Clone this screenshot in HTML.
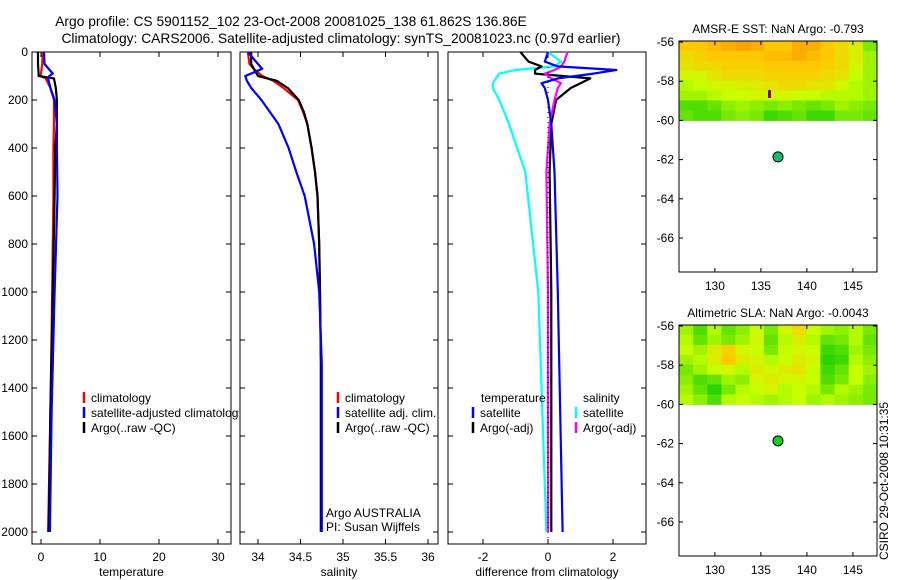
<!DOCTYPE html>
<html><head><meta charset="utf-8"><style>
body{margin:0;background:#fff;}
svg{display:block;font-family:"Liberation Sans",sans-serif;}
text{font-size:12px;fill:#000;}
.ttl{font-size:13.8px;}
</style></head><body>
<svg id="fig" width="900" height="580">
<defs><clipPath id="legclip"><rect x="0" y="380" width="239" height="60"/></clipPath></defs>
<text class="ttl" x="291" y="26" text-anchor="middle">Argo profile: CS 5901152_102 23-Oct-2008 20081025_138 61.862S 136.86E</text>
<text class="ttl" x="341" y="43" text-anchor="middle">Climatology: CARS2006. Satellite-adjusted climatology: synTS_20081023.nc (0.97d earlier)</text>
<text transform="translate(888,560) rotate(-90)">CSIRO 29-Oct-2008 10:31:35</text>
<g id="g"></g>
</svg>
<script>
// ---- depth axis data ----
const depthTicks=[0,200,400,600,800,1000,1200,1400,1600,1800,2000];
// temperature panel
const tDepth=[0,50,90,100,110,150,200,300,400,600,1000,1500,2000];
const tClim=[0.3,0.2,0,-0.1,0.8,1.6,2.2,2.2,2.1,2.1,1.9,1.6,1.2];
const tSat=[0.5,0.6,2.0,1.4,1.2,1.6,2.3,2.7,2.7,2.8,2.3,1.8,1.5];
const tArgo=[-0.5,-0.5,-0.4,-0.4,2.2,2.5,2.7,2.7,2.4,2.3,2.0,1.6,1.3];
const tTicks=[0,10,20,30];
// salinity panel
const sDepth=[0,50,70,100,120,150,200,250,300,400,500,600,800,1000,1300,2000];
const sClim=[33.88,33.9,33.95,34.05,34.18,34.3,34.47,34.53,34.58,34.63,34.67,34.7,34.72,34.73,34.74,34.74];
const sSat=[33.88,34.0,34.05,33.85,33.87,33.92,34.04,34.14,34.24,34.36,34.45,34.55,34.66,34.72,34.75,34.75];
const sArgo=[33.92,33.92,33.95,34.0,34.22,34.35,34.48,34.54,34.58,34.63,34.67,34.7,34.72,34.73,34.74,34.74];
const sTicks=[34,34.5,35,35.5,36];
// difference panel
const dDepth=[0,40,60,75,90,110,130,150,200,300,500,1000,2000];
const dTSat=[0,-0.1,0.3,2.1,1.4,0.3,-0.2,-0.1,0,0.1,0.2,0.3,0.45];
const dTArgo=[-0.85,-0.6,-0.2,-0.4,-0.4,1.3,1.0,0.7,0.25,0.1,0.05,0.1,0.1];
const dSSat=[0,0.4,0.2,-1.0,-1.5,-1.6,-1.7,-1.7,-1.5,-1.2,-0.7,-0.3,-0.05];
const dSArgo=[0.6,0.5,0.4,0.2,-0.1,0.1,0.4,0.3,0.2,0.05,-0.05,0,0];
const dTicks=[-2,0,2];
// maps
const lonTicks=[130,135,140,145];
const latTicks=[-56,-58,-60,-62,-64,-66];
const argoLon=136.86, argoLat=-61.862;
const sstGrid=[
[0.80,0.80,0.85,0.90,0.95,0.90,0.80,0.80,0.90,0.90,0.80,0.70,0.60,0.30],
[0.70,0.75,0.80,0.80,0.80,0.80,0.85,0.85,0.90,0.85,0.80,0.70,0.60,0.40],
[0.65,0.70,0.70,0.75,0.75,0.75,0.80,0.80,0.80,0.80,0.75,0.70,0.55,0.40],
[0.55,0.55,0.65,0.70,0.70,0.70,0.75,0.75,0.75,0.75,0.70,0.65,0.50,0.40],
[0.45,0.50,0.55,0.55,0.60,0.60,0.65,0.70,0.70,0.65,0.65,0.55,0.45,0.40],
[0.40,0.40,0.45,0.50,0.50,0.55,0.50,0.55,0.50,0.50,0.45,0.45,0.45,0.40],
[0.20,0.20,0.25,0.35,0.40,0.35,0.30,0.35,0.30,0.25,0.30,0.40,0.35,0.30],
[0.25,0.20,0.20,0.30,0.35,0.30,0.15,0.20,0.25,0.15,0.15,0.30,0.30,0.25]];
const slaGrid=[
[0.40,0.20,0.45,0.25,0.35,0.50,0.30,0.55,0.70,0.50,0.40,0.35,0.45,0.30],
[0.45,0.25,0.40,0.30,0.40,0.55,0.25,0.45,0.60,0.45,0.25,0.30,0.45,0.25],
[0.50,0.40,0.60,0.75,0.55,0.50,0.30,0.50,0.55,0.50,0.15,0.20,0.40,0.30],
[0.40,0.45,0.60,0.80,0.60,0.55,0.45,0.50,0.60,0.55,0.10,0.15,0.45,0.35],
[0.30,0.40,0.50,0.55,0.45,0.60,0.55,0.60,0.65,0.50,0.15,0.25,0.50,0.40],
[0.35,0.20,0.25,0.40,0.35,0.55,0.60,0.55,0.55,0.50,0.20,0.30,0.50,0.35],
[0.40,0.25,0.10,0.30,0.45,0.50,0.55,0.45,0.50,0.45,0.30,0.45,0.40,0.30],
[0.45,0.35,0.20,0.45,0.50,0.45,0.40,0.45,0.50,0.40,0.45,0.40,0.35,0.30]];

const NS="http://www.w3.org/2000/svg";
const G=document.getElementById('g');
function mk(tag,attrs,parent){const e=document.createElementNS(NS,tag);for(const k in attrs)e.setAttribute(k,attrs[k]);(parent||G).appendChild(e);return e;}
function txt(x,y,s,anchor,parent){const t=mk('text',{x:x,y:y,'text-anchor':anchor||'start'},parent);t.textContent=s;return t;}
const Y0=52,Y1=544;const yD=d=>Y0+d*0.24;

function panel(name,x0,x1,xf,ticks,xlabel,series,showY){
  const g=mk('g',{});
  
  
  const fr=mk('rect',{x:x0,y:Y0,width:x1-x0,height:Y1-Y0,fill:'none',stroke:'#000','stroke-width':1},g);
  
  
  ticks.forEach(v=>{const x=xf(v);
    mk('line',{x1:x,x2:x,y1:Y1,y2:Y1-5,stroke:'#000'},g);mk('line',{x1:x,x2:x,y1:Y0,y2:Y0+5,stroke:'#000'},g);
    const t=txt(x,Y1+17,String(v),'middle',g);
    
    });
  depthTicks.forEach(d=>{const y=yD(d);
    mk('line',{x1:x0,x2:x0+5,y1:y,y2:y,stroke:'#000'},g);mk('line',{x1:x1,x2:x1-5,y1:y,y2:y,stroke:'#000'},g);
    if(showY){const t=txt(x0-4,y+4,String(d),'end',g);
      
      }});
  const xl=txt((x0+x1)/2,Y1+32,xlabel,'middle',g);
  
  
  series.forEach(s=>{
    const pts=s.v.map((v,i)=>xf(v).toFixed(1)+','+yD(s.d[i]).toFixed(1)).join(' ');
    const p=mk('polyline',{points:pts,fill:'none',stroke:s.c,'stroke-width':2.2,'stroke-linejoin':'round'},g);
    
    });
  return g;
}
const xT=v=>41+v*5.9, xS=v=>258+(v-34)*85, xDf=v=>548+v*32.5;
panel('temperature-panel',32,231,xT,tTicks,'temperature',[
 {v:tClim,d:tDepth,c:'#f00',n:'temp-climatology-line'},{v:tArgo,d:tDepth,c:'#000',n:'temp-argo-line'},{v:tSat,d:tDepth,c:'#00f',n:'temp-satellite-line'}],true);
panel('salinity-panel',240,438,xS,sTicks,'salinity',[
 {v:sClim,d:sDepth,c:'#f00',n:'sal-climatology-line'},{v:sArgo,d:sDepth,c:'#000',n:'sal-argo-line'},{v:sSat,d:sDepth,c:'#00f',n:'sal-satellite-line'}],false);
const dp=panel('difference-panel',448,646,xDf,dTicks,'difference from climatology',[
 {v:dSSat,d:dDepth,c:'#0ff',n:'diff-sal-satellite-line'},{v:dTArgo,d:dDepth,c:'#000',n:'diff-temp-argo-line'},{v:dSArgo,d:dDepth,c:'#f0f',n:'diff-sal-argo-line'},{v:dTSat,d:dDepth,c:'#00f',n:'diff-temp-satellite-line'}],false);
mk('line',{x1:xDf(0),x2:xDf(0),y1:Y0,y2:Y1,stroke:'#000','stroke-dasharray':'1,4'},dp);

function legend(x,y,items,parent){items.forEach((it,i)=>{
  const yy=y+i*15;const l=mk('line',{x1:x,x2:x,y1:yy-10,y2:yy+1,stroke:it[1],'stroke-width':2.5},parent);
  
  
  const t=txt(x+7,yy,it[0],'start',parent);
  
  });}
const lg1=mk('g',{'clip-path':'url(#legclip)'});


legend(84,402,[['climatology','#f00'],['satellite-adjusted climatology','#00f'],['Argo(..raw -QC)','#000']],lg1);
legend(338,402,[['climatology','#f00'],['satellite adj. clim.','#00f'],['Argo(..raw -QC)','#000']]);
txt(481,402,'temperature');txt(583,402,'salinity');
legend(473,417,[['satellite','#00f'],['Argo(-adj)','#000']]);
legend(576,417,[['satellite','#0ff'],['Argo(-adj)','#f0f']]);
const a1=txt(326,517,'Argo AUSTRALIA');
const a2=txt(326,531,'PI: Susan Wijffels');

function cmap(v){const st=[[0,[0,200,0]],[0.5,[200,255,0]],[0.8,[255,200,0]],[1,[245,150,0]]];
  for(let i=1;i<st.length;i++){if(v<=st[i][0]){const a=st[i-1],b=st[i],f=(v-a[0])/(b[0]-a[0]);
    return 'rgb('+a[1].map((c,k)=>Math.round(c+(b[1][k]-c)*f)).join(',')+')';}}return 'rgb(245,150,0)';}
function map(name,title,yTop,grid,dotColor){
  const X0=679,X1=877,H=231;const lx=v=>X0+(v-126.1)*9.2, ly=v=>yTop+(-56-v)*19.6+1;
  const g=mk('g',{});
  
  
  const t=txt(778,yTop-8,title,'middle',g);
  
  
  const rows=grid.length,cols=grid[0].length;
  const gx0=X0,gx1=X1,gy0=yTop,gy1=ly(-60);
  grid.forEach((r,i)=>r.forEach((v,j)=>{
    const c=mk('rect',{x:gx0+j*(gx1-gx0)/cols,y:gy0+i*(gy1-gy0)/rows,width:(gx1-gx0)/cols+0.5,height:(gy1-gy0)/rows+0.5,fill:cmap(v)},g);
    
    }));
  const fr=mk('rect',{x:X0,y:yTop,width:X1-X0,height:H,fill:'none',stroke:'#000'},g);
  
  
  lonTicks.forEach(v=>{const x=lx(v);mk('line',{x1:x,x2:x,y1:yTop,y2:yTop+4,stroke:'#000'},g);mk('line',{x1:x,x2:x,y1:yTop+H,y2:yTop+H-4,stroke:'#000'},g);
    const l=txt(x,yTop+H+18,String(v),'middle',g);});
  latTicks.forEach(v=>{const y=ly(v);mk('line',{x1:X0,x2:X0+4,y1:y,y2:y,stroke:'#000'},g);mk('line',{x1:X1,x2:X1-4,y1:y,y2:y,stroke:'#000'},g);
    const l=txt(X0-5,y+4,String(v),'end',g);});
  const d=mk('circle',{cx:lx(argoLon),cy:ly(argoLat),r:5,fill:dotColor,stroke:'#000','stroke-width':1},g);
  
  
}
map('sst-map','AMSR-E SST: NaN Argo: -0.793',41,sstGrid,'#10c070');
map('sla-map','Altimetric SLA: NaN Argo: -0.0043',325,slaGrid,'#10d020');
// red spike in SST map
mk('rect',{x:768,y:90,width:3,height:8,fill:'#a00000'});
</script>
</body></html>
